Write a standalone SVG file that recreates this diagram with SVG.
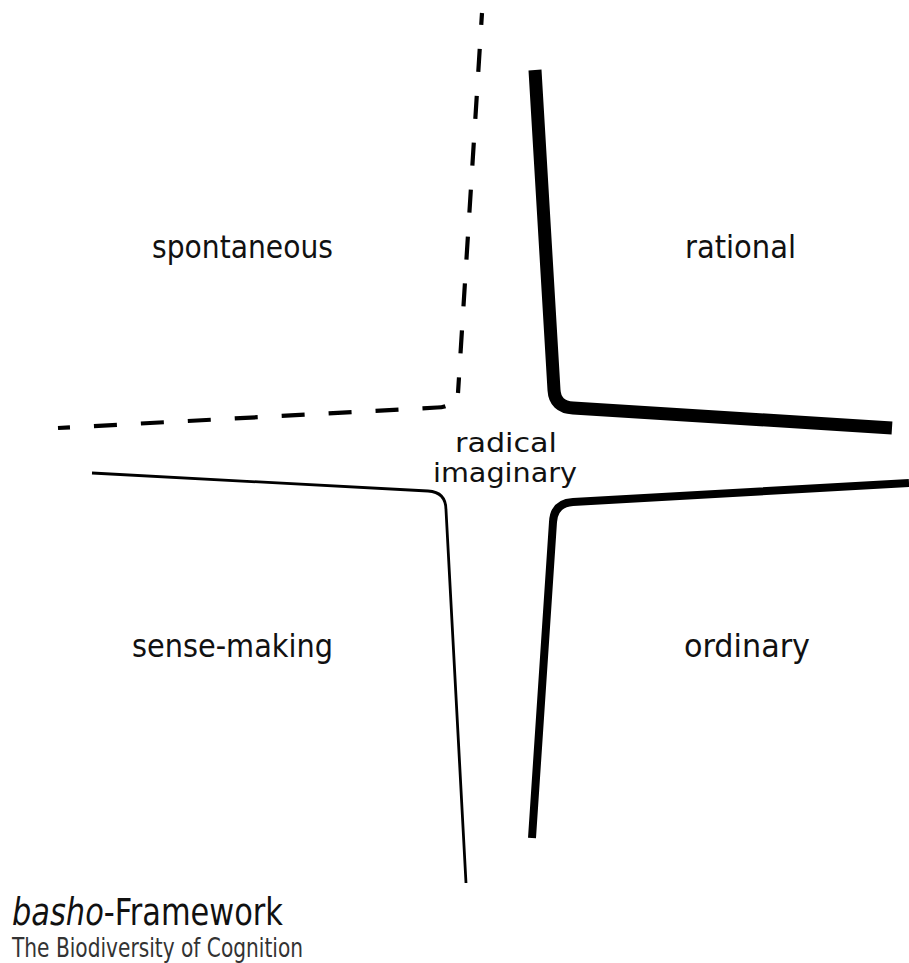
<svg xmlns="http://www.w3.org/2000/svg" width="909" height="963" viewBox="0 0 909 963">
<style>
.lbl{font-family:"DejaVu Sans Condensed","DejaVu Sans","Liberation Sans",sans-serif;font-size:32px;fill:#111;}
.ri{font-size:27px;}
.ln{fill:none;stroke:#000;stroke-linejoin:round;}
.dash{stroke-width:4.2;stroke-dasharray:23 24;stroke-dashoffset:11;}
</style>
<rect width="909" height="963" fill="#fff"/>
<g id="connectors">
<path id="dashed-v" class="ln dash" d="M482,13 L458,393"/>
<path id="dashed-h" class="ln dash" d="M58,428 L437,407.5 Q442,407.5 446,406"/>
<path id="thick" class="ln" d="M535,70 L554,390 Q555,407 573,408 L892,428" stroke-width="13"/>
<path id="medium" class="ln" d="M532,838 L553,522 Q554,503 573,502 L909,483" stroke-width="8"/>
<path id="thin" class="ln" d="M92,473 L428,491 Q446,492 446,510 L466,883" stroke-width="2.8"/>
</g>
<g id="spontaneous"><text class="lbl" x="152" y="258" textLength="181" lengthAdjust="spacingAndGlyphs">spontaneous</text></g>
<g id="rational"><text class="lbl" x="685" y="258" textLength="111" lengthAdjust="spacingAndGlyphs">rational</text></g>
<g id="radical-imaginary">
<text class="lbl ri" x="455" y="452" textLength="102" lengthAdjust="spacingAndGlyphs">radical</text>
<text class="lbl ri" x="433" y="482" textLength="144" lengthAdjust="spacingAndGlyphs">imaginary</text>
</g>
<g id="sense-making"><text class="lbl" x="132" y="657" textLength="201" lengthAdjust="spacingAndGlyphs">sense-making</text></g>
<g id="ordinary"><text class="lbl" x="684" y="657" textLength="126" lengthAdjust="spacingAndGlyphs">ordinary</text></g>
<g id="footer">
<text x="12" y="925" font-family="'DejaVu Sans Condensed','DejaVu Sans','Liberation Sans',sans-serif" font-size="37" fill="#111" textLength="271" lengthAdjust="spacingAndGlyphs"><tspan font-style="italic">basho</tspan>-Framework</text>
<text x="12" y="957" font-family="'DejaVu Sans Condensed','DejaVu Sans','Liberation Sans',sans-serif" font-size="27" font-weight="300" fill="#333" textLength="291" lengthAdjust="spacingAndGlyphs">The Biodiversity of Cognition</text>
</g>
</svg>
